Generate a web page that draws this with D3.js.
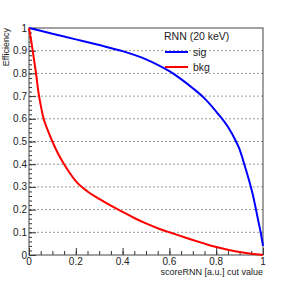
<!DOCTYPE html>
<html>
<head>
<meta charset="utf-8">
<script src="https://cdn.jsdelivr.net/npm/d3@7"></script>
<style>
  body { margin: 0; background: #fff; }
  svg { display: block; font-family: "Liberation Sans", Arial, sans-serif; }
</style>
</head>
<body>
<div id="chart"></div>
<script>
// valores
const cutValues = [0, 0.005, 0.01, 0.02, 0.03, 0.04, 0.05, 0.06, 0.08, 0.1, 0.125, 0.15, 0.175, 0.2, 0.25, 0.3, 0.35, 0.4, 0.45, 0.5, 0.55, 0.6, 0.65, 0.7, 0.75, 0.8, 0.85, 0.9, 0.95, 1];
const bkgEff = [1, 0.97, 0.94, 0.87, 0.8, 0.72, 0.66, 0.61, 0.55, 0.5, 0.445, 0.4, 0.36, 0.325, 0.28, 0.247, 0.217, 0.19, 0.163, 0.139, 0.118, 0.1, 0.083, 0.066, 0.05, 0.035, 0.023, 0.013, 0.005, 0];

const sigCuts = [0, 0.1, 0.2, 0.3, 0.4, 0.5, 0.55, 0.6, 0.65, 0.7, 0.75, 0.8, 0.85, 0.88, 0.9, 0.92, 0.94, 0.96, 0.97, 0.98, 0.99, 1];
const sigEff = [1, 0.975, 0.95, 0.925, 0.898, 0.862, 0.838, 0.81, 0.775, 0.735, 0.69, 0.632, 0.565, 0.51, 0.465, 0.4, 0.33, 0.25, 0.2, 0.15, 0.1, 0.04];

const yTicks = [0, 0.1, 0.2, 0.3, 0.4, 0.5, 0.6, 0.7, 0.8, 0.9, 1];
const xTicks = [0, 0.2, 0.4, 0.6, 0.8, 1];
const legendTitle = "RNN (20 keV)";
const seriesNames = ["sig", "bkg"];

const width = 293, height = 284;
const margin = { top: 28, right: 30, bottom: 29, left: 29 };

const svg = d3.select("#chart").append("svg")
    .attr("width", width)
    .attr("height", height);

const x = d3.scaleLinear([0, 1], [margin.left, width - margin.right]);
const y = d3.scaleLinear([0, 1], [height - margin.bottom, margin.top]);

// lineas de grilla punteadas
svg.append("g")
    .selectAll("line")
    .data(yTicks.filter(d => d > 0 && d < 1))
    .join("line")
    .attr("x1", x(0)).attr("x2", x(1))
    .attr("y1", d => y(d)).attr("y2", d => y(d))
    .attr("stroke", "#999")
    .attr("stroke-width", 1)
    .attr("stroke-dasharray", "2,2");

// eje y (ticks hacia dentro)
svg.append("g")
    .attr("transform", `translate(${x(0)},0)`)
    .call(d3.axisRight(y).tickValues(d3.range(0, 1.0001, 0.02)).tickSize(3).tickFormat(""))
    .call(g => g.select(".domain").remove())
    .call(g => g.selectAll(".tick line").attr("stroke", "#333"));

svg.append("g")
    .attr("transform", `translate(${x(0)},0)`)
    .call(d3.axisRight(y).tickValues(yTicks).tickSize(7).tickFormat(""))
    .call(g => g.select(".domain").remove())
    .call(g => g.selectAll(".tick line").attr("stroke", "#333"));

svg.append("g")
    .selectAll("text")
    .data(yTicks)
    .join("text")
    .attr("x", x(0) - 2)
    .attr("y", d => y(d) + 3.5)
    .attr("text-anchor", "end")
    .attr("font-size", 10)
    .attr("fill", "#222")
    .text(d => d3.format("")(d));

// eje x
svg.append("g")
    .attr("transform", `translate(0,${y(0)})`)
    .call(d3.axisTop(x).tickValues(d3.range(0, 1.0001, 0.05)).tickSize(4).tickFormat(""))
    .call(g => g.select(".domain").remove())
    .call(g => g.selectAll(".tick line").attr("stroke", "#333"));

svg.append("g")
    .attr("transform", `translate(0,${y(0)})`)
    .call(d3.axisTop(x).tickValues(xTicks).tickSize(7).tickFormat(""))
    .call(g => g.select(".domain").remove())
    .call(g => g.selectAll(".tick line").attr("stroke", "#333"));

svg.append("g")
    .selectAll("text")
    .data(xTicks)
    .join("text")
    .attr("x", d => x(d))
    .attr("y", y(0) + 10)
    .attr("text-anchor", "middle")
    .attr("font-size", 10)
    .attr("fill", "#222")
    .text(d => d3.format("")(d));

// marco
svg.append("rect")
    .attr("x", x(0)).attr("y", y(1))
    .attr("width", x(1) - x(0))
    .attr("height", y(0) - y(1))
    .attr("fill", "none")
    .attr("stroke", "#444")
    .attr("stroke-width", 1);

// curvas
const line = d3.line()
    .x(d => x(d[0]))
    .y(d => y(d[1]))
    .curve(d3.curveMonotoneX);

svg.append("path")
    .attr("fill", "none")
    .attr("stroke", "#0000ff")
    .attr("stroke-width", 2)
    .attr("d", line(d3.zip(sigCuts, sigEff)));

svg.append("path")
    .attr("fill", "none")
    .attr("stroke", "#ff0000")
    .attr("stroke-width", 2)
    .attr("d", line(d3.zip(cutValues, bkgEff)));

// titulos de ejes
svg.append("text")
    .attr("transform", `translate(9,${y(1)}) rotate(-90)`)
    .attr("text-anchor", "end")
    .attr("font-size", 9)
    .attr("fill", "#222")
    .text("Efficiency");

svg.append("text")
    .attr("x", x(1))
    .attr("y", y(0) + 20)
    .attr("text-anchor", "end")
    .attr("font-size", 9)
    .attr("fill", "#222")
    .text("scoreRNN [a.u.] cut value");

// leyenda
const legend = svg.append("g");
legend.append("text")
    .attr("x", 164).attr("y", 40)
    .attr("font-size", 10.5)
    .attr("fill", "#222")
    .text(legendTitle);

const colors = ["#0000ff", "#ff0000"];
seriesNames.forEach((name, i) => {
    const ly = 52 + i * 15;
    legend.append("line")
        .attr("x1", 165).attr("x2", 188)
        .attr("y1", ly).attr("y2", ly)
        .attr("stroke", colors[i])
        .attr("stroke-width", 2);
    legend.append("text")
        .attr("x", 193).attr("y", ly + 4)
        .attr("font-size", 10.5)
        .attr("fill", "#222")
        .text(name);
});
</script>
</body>
</html>
